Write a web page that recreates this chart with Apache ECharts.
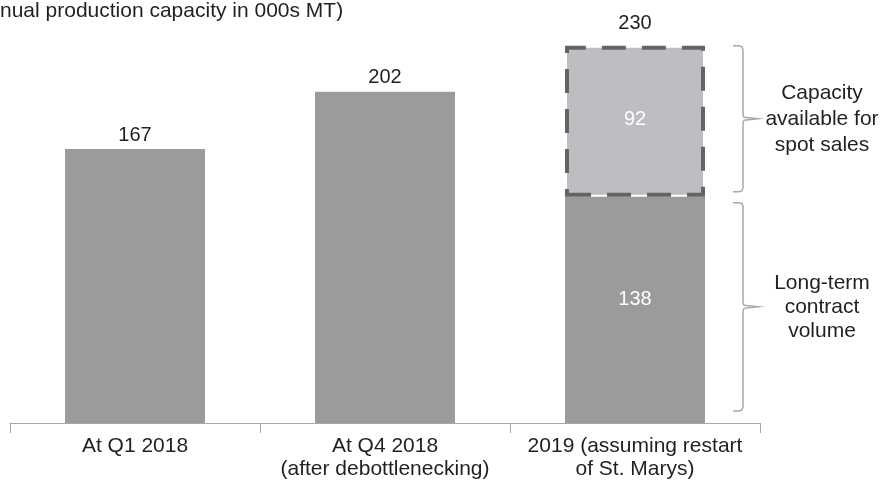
<!DOCTYPE html>
<html>
<head>
<meta charset="utf-8">
<script src="https://cdn.jsdelivr.net/npm/echarts@6/dist/echarts.min.js"></script>
<style>
  html, body { margin: 0; padding: 0; background: #fff; }
  #chart { width: 888px; height: 481px; }
</style>
</head>
<body>
<div id="chart"></div>
<script>
const categories = ['At Q1 2018', 'At Q4 2018\n(after debottlenecking)', '2019 (assuming restart\nof St. Marys)'];
const contractValues = [167, 202, 138];
const spotValues = [null, null, 92];
const totalValues = [167, 202, 230];
const unitNote = 'nual production capacity in 000s MT)';
const spotNote = 'Capacity\navailable for\nspot sales';
const contractNote = 'Long-term\ncontract\nvolume';

const FONT = "'Liberation Sans', Arial, Helvetica, sans-serif";
const TEXT = '#231f20';
const chart = echarts.init(document.getElementById('chart'));

const option = {
  animation: false,
  grid: { left: 10, right: 128, top: 13, bottom: 57 },
  textStyle: { fontFamily: FONT },
  xAxis: {
    type: 'category',
    data: categories,
    axisLine: { lineStyle: { color: '#a7a7a7', width: 1 } },
    axisTick: { show: true, length: 10, lineStyle: { color: '#a7a7a7' } },
    axisLabel: { interval: 0, margin: 12, color: TEXT, fontSize: 21, lineHeight: 23, fontFamily: FONT }
  },
  yAxis: { type: 'value', min: 0, max: 250, show: false, splitLine: { show: false } },
  series: [
    {
      name: 'contract',
      type: 'bar',
      stack: 'cap',
      barWidth: '56%',
      itemStyle: { color: '#9b9b9e' },
      data: contractValues.map((v, i) => ({
        value: v,
        label: spotValues[i] == null
          ? { show: true, position: 'top', distance: 4, color: TEXT }
          : { show: true, position: 'inside', color: '#fff', offset: [0, -10] }
      })),
      label: { fontSize: 20, fontFamily: FONT }
    },
    {
      name: 'spot',
      type: 'bar',
      stack: 'cap',
      itemStyle: {
        color: '#bdbec1',
        borderColor: '#646466',
        borderWidth: 4,
        borderType: [24, 16]
      },
      label: { show: true, position: 'inside', color: '#fff', fontSize: 20, fontFamily: FONT, offset: [0, -2] },
      data: spotValues
    },
    {
      name: 'total',
      type: 'bar',
      stack: 'cap',
      itemStyle: { color: 'transparent' },
      label: {
        show: true, position: 'top', distance: 12, color: TEXT, fontSize: 20, fontFamily: FONT,
        formatter: p => totalValues[p.dataIndex]
      },
      data: spotValues.map(v => (v == null ? null : 0))
    }
  ]
};
chart.setOption(option);

// braces and side notes, placed from the data scale
const bx = 743;
const px = v => chart.convertToPixel({ xAxisIndex: 0, yAxisIndex: 0 }, [2, v])[1];
function brace(top, bottom) {
  const mid = (top + bottom) / 2;
  return {
    type: 'polyline',
    shape: {
      points: [
        [bx - 10, top], [bx - 4, top], [bx - 1, top + 1], [bx, top + 4],
        [bx, mid - 4], [bx + 1, mid - 1.5], [bx + 15, mid], [bx + 1, mid + 1.5], [bx, mid + 4],
        [bx, bottom - 4], [bx - 1, bottom - 1], [bx - 4, bottom], [bx - 10, bottom]
      ]
    },
    style: { stroke: '#a9a9a9', lineWidth: 1.5, fill: null }
  };
}
const sTop = px(totalValues[2]), sBot = px(contractValues[2]) - 5;
const cTop = px(contractValues[2]) + 6, cBot = px(0) - 12;
function note(text, y, lh) {
  return {
    type: 'text', x: 822, y: y,
    style: { text: text, fill: TEXT, font: '21px ' + FONT, align: 'center', verticalAlign: 'middle', lineHeight: lh }
  };
}
chart.setOption({
  graphic: [
    { type: 'text', left: 0, top: 1, style: { text: unitNote, fill: TEXT, font: '21px ' + FONT } },
    brace(sTop, sBot),
    brace(cTop, cBot),
    note(spotNote, (sTop + sBot) / 2, 26),
    note(contractNote, (cTop + cBot) / 2, 24)
  ]
});
</script>
</body>
</html>
